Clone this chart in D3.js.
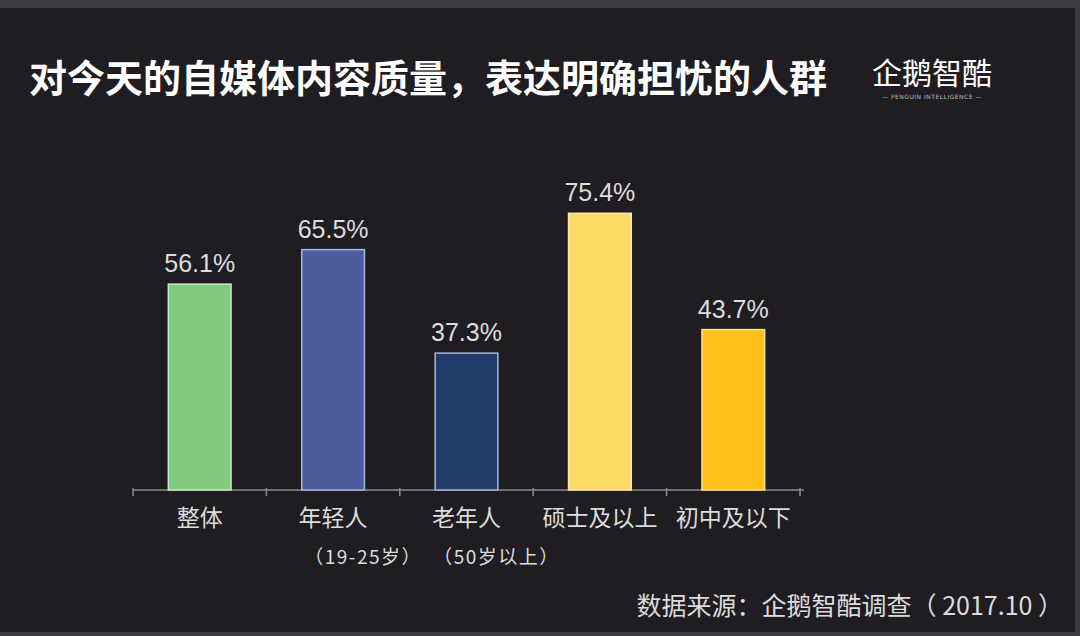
<!DOCTYPE html>
<html><head><meta charset="utf-8">
<script src="https://cdn.jsdelivr.net/npm/d3@7/dist/d3.min.js"></script>
<style>
html,body{margin:0;padding:0;background:#1e1c21;}
svg{display:block;}
</style></head>
<body>
<svg id="c" width="1080" height="636"></svg>
<script>
const categories = ["整体", "年轻人", "老年人", "硕士及以上", "初中及以下"];
const subLabels = ["", "（19-25岁）", "（50岁以上）", "", ""];
const values = [56.1, 65.5, 37.3, 75.4, 43.7];
const barColors = ["#80c97f", "#4a5d9a", "#213b6b", "#ffd966", "#ffc019"];
const barStrokes = ["#c8e8c4", "#aab4dd", "#a9b4d6", "#ffe9a6", "#ffe08a"];
const title = "对今天的自媒体内容质量，表达明确担忧的人群";
const source = "数据来源：企鹅智酷调查（ 2017.10 ）";

const svg = d3.select("#c");
const font = "'Noto Sans CJK SC', 'Noto Sans', sans-serif";
const numFont = "'Liberation Sans', Arial, sans-serif";

// frame
svg.append("rect").attr("x",0).attr("y",0).attr("width",1080).attr("height",636).attr("fill","#3b3a3f");
svg.append("rect").attr("x",0).attr("y",8).attr("width",1075).attr("height",624).attr("fill","#1f1d22");

const x = d3.scaleBand().domain(categories).range([133, 800]).paddingInner(0.53).paddingOuter(0.265);
const y = d3.scaleLinear().domain([0, 100]).range([490, 123]);

// axis
const axisG = svg.append("g").attr("transform","translate(0,490)");
axisG.call(d3.axisBottom(x).tickSize(0).tickFormat(""));
axisG.select(".domain").remove();
axisG.append("line").attr("x1",133).attr("x2",804).attr("y1",0).attr("y2",0).attr("stroke","#8a8a8e").attr("stroke-width",1.5);
const tickPos = d3.range(categories.length + 1).map(i => 133 + i * (800 - 133) / categories.length);
axisG.selectAll(".tk").data(tickPos).enter().append("line")
  .attr("x1", d => d).attr("x2", d => d).attr("y1", -2).attr("y2", 6)
  .attr("stroke","#8a8a8e").attr("stroke-width",1.5);

// bars
svg.selectAll(".bar").data(values).enter().append("rect")
  .attr("x", (d,i) => x(categories[i]))
  .attr("y", d => y(d))
  .attr("width", x.bandwidth())
  .attr("height", d => y(0) - y(d))
  .attr("fill", (d,i) => barColors[i])
  .attr("stroke", (d,i) => barStrokes[i])
  .attr("stroke-width", 1.5);

// value labels
svg.selectAll(".val").data(values).enter().append("text")
  .attr("x", (d,i) => x(categories[i]) + x.bandwidth()/2)
  .attr("y", d => y(d) - 12)
  .attr("text-anchor","middle")
  .attr("fill","#dcdcdc")
  .attr("font-family", numFont)
  .attr("font-size", 25)
  .text(d => d.toFixed(1) + "%");

// category labels
svg.selectAll(".cat").data(categories).enter().append("text")
  .attr("x", (d) => x(d) + x.bandwidth()/2)
  .attr("y", 526)
  .attr("text-anchor","middle")
  .attr("fill","#dcdcdc")
  .attr("font-family", font)
  .attr("font-size", 23)
  .text(d => d);

svg.selectAll(".sub").data(subLabels).enter().append("text")
  .attr("x", (d,i) => x(categories[i]) + x.bandwidth()/2 + 30)
  .attr("y", 564)
  .attr("text-anchor","middle")
  .attr("fill","#dcdcdc")
  .attr("font-family", font)
  .attr("font-size", 19)
  .attr("letter-spacing", 1.5)
  .text(d => d);

// title
svg.append("text")
  .attr("x", 29).attr("y", 92)
  .attr("fill","#ffffff")
  .attr("font-family", font)
  .attr("font-weight", 700)
  .attr("font-size", 38)
  .text(title);

// logo
svg.append("text")
  .attr("x", 932).attr("y", 84)
  .attr("text-anchor","middle")
  .attr("fill","#ffffff")
  .attr("font-family", font)
  .attr("font-size", 30)
  .text("企鹅智酷");
svg.append("text")
  .attr("x", 932).attr("y", 99)
  .attr("text-anchor","middle")
  .attr("fill","#bbbbbb")
  .attr("font-family", "'DejaVu Sans', sans-serif")
  .attr("font-size", 6)
  .attr("letter-spacing", 0.5)
  .text("— PENGUIN INTELLIGENCE —");

// source
svg.append("text")
  .attr("x", 1063).attr("y", 615)
  .attr("text-anchor","end")
  .attr("fill","#dcdcdc")
  .attr("font-family", font)
  .attr("font-size", 25)
  .text(source);
</script>
</body></html>
